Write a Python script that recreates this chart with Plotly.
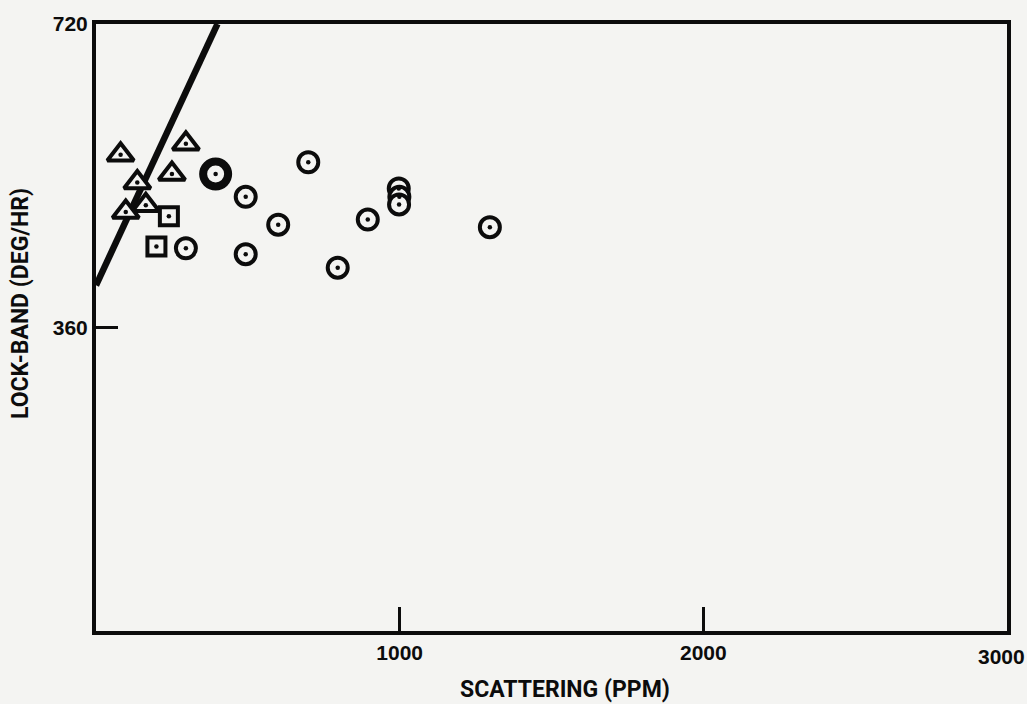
import plotly.graph_objects as go

# ---- data ----
tri_x = [81, 296, 250, 136, 164, 98]
tri_y = [565, 578, 542, 532, 505, 497]

sq_x = [240, 199]
sq_y = [492, 456]

circ_x = [493, 699, 600, 493, 796, 895, 997, 999, 998, 1297, 296]
circ_y = [515, 556, 482, 447, 431, 488, 525, 515, 506, 479, 454]

big_x = [394]
big_y = [542]

line_x = [0, 400]
line_y = [410, 720]

xtick_vals = [1000, 2000]
xtick_text = ["1000", "2000"]
xend_val = 3000
xend_text = "3000"
ytick_vals = [360, 720]
ytick_text = ["360", "720"]

INK = "#0c0c0c"
BG = "#f4f4f2"
FONT = "Roboto"
NUMFONT = "Liberation Sans"
W = "bold"

fig = go.Figure()

fig.add_trace(go.Scatter(x=line_x, y=line_y, mode="lines",
                         line=dict(color=INK, width=6.5), hoverinfo="skip"))

fig.add_trace(go.Scatter(x=tri_x, y=tri_y, mode="markers",
                         marker=dict(symbol="triangle-up", size=23, color=BG,
                                     line=dict(color=INK, width=4))))
fig.add_trace(go.Scatter(x=sq_x, y=sq_y, mode="markers",
                         marker=dict(symbol="square", size=18, color=BG,
                                     line=dict(color=INK, width=4))))
fig.add_trace(go.Scatter(x=circ_x, y=circ_y, mode="markers",
                         marker=dict(symbol="circle", size=20, color=BG,
                                     line=dict(color=INK, width=4))))
fig.add_trace(go.Scatter(x=big_x, y=big_y, mode="markers",
                         marker=dict(symbol="circle", size=25, color=BG,
                                     line=dict(color=INK, width=8))))

# center dots
fig.add_trace(go.Scatter(x=tri_x + sq_x + circ_x + big_x,
                         y=tri_y + sq_y + circ_y + big_y, mode="markers",
                         marker=dict(symbol="circle", size=4.5, color=INK)))

fig.update_layout(
    width=1027, height=704,
    margin=dict(l=96, r=20, t=22, b=73),
    paper_bgcolor=BG, plot_bgcolor=BG,
    showlegend=False,
    font=dict(family=FONT, color=INK, weight=W),
)

fig.update_xaxes(range=[0, 3000], tickvals=xtick_vals, ticktext=xtick_text,
                 ticks="inside", ticklen=24, tickwidth=3, tickcolor=INK,
                 showline=True, linewidth=4, linecolor=INK, mirror=True,
                 showgrid=False, zeroline=False,
                 tickfont=dict(family=NUMFONT, size=21, weight=W, color=INK))
fig.update_yaxes(range=[0, 720], tickvals=ytick_vals, ticktext=ytick_text,
                 ticks="inside", ticklen=22, tickwidth=3, tickcolor=INK,
                 showline=True, linewidth=4, linecolor=INK, mirror=True,
                 showgrid=False, zeroline=False,
                 tickfont=dict(family=NUMFONT, size=21, weight=W, color=INK))

# label at the right end of the x axis (kept inside the page)
fig.add_annotation(text=xend_text, x=xend_val, xref="x", y=0, yref="paper",
                   xanchor="center", yanchor="top", xshift=-6, yshift=-12,
                   showarrow=False,
                   font=dict(family=NUMFONT, size=21, weight=W, color=INK))

fig.add_annotation(text="SCATTERING (PPM)", xref="paper", yref="paper",
                   x=(565 - 96) / 911, y=-(690 - 631) / 609, showarrow=False,
                   xanchor="center", yanchor="middle",
                   font=dict(family=FONT, size=23, weight=W, color=INK))
fig.add_annotation(text="LOCK-BAND (DEG/HR)", xref="paper", yref="paper",
                   x=-(96 - 20) / 911, y=(631 - 303) / 609, showarrow=False,
                   textangle=-90, xanchor="center", yanchor="middle",
                   font=dict(family=FONT, size=23, weight=W, color=INK))

fig.write_html("out.html", config={"displayModeBar": False},
               post_script="document.body.style.margin='0';"
                           "document.body.style.overflow='hidden';"
                           "document.body.style.background='#f4f4f2';")
